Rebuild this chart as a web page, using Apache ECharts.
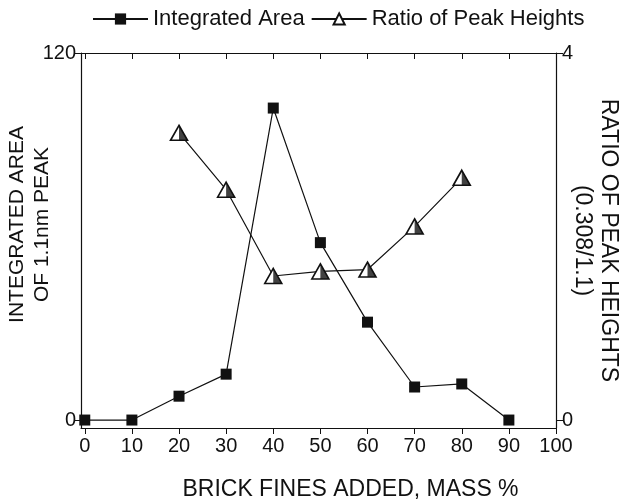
<!DOCTYPE html>
<html>
<head>
<meta charset="utf-8">
<script src="https://cdn.jsdelivr.net/npm/echarts@6/dist/echarts.min.js"></script>
<style>
  html, body { margin: 0; padding: 0; background: #fff; }
  #chart { width: 629px; height: 499px; }
</style>
</head>
<body>
<div id="chart"></div>
<script>
// data
var massPct = [0, 10, 20, 30, 40, 50, 60, 70, 80, 90];
var integratedArea = [0, 0, 7.8, 15, 102, 58, 32, 10.8, 11.8, 0];
var ratioPct = [20, 30, 40, 50, 60, 70, 80];
var ratioHeights = [3.13, 2.51, 1.57, 1.62, 1.64, 2.11, 2.64];
var xTicks = [0, 10, 20, 30, 40, 50, 60, 70, 80, 90, 100];
var leftTicks = [0, 120];
var rightTicks = [0, 4];

var areaPts = massPct.map(function (x, i) { return [x, integratedArea[i]]; });
var ratioPts = ratioPct.map(function (x, i) { return [x, ratioHeights[i]]; });

var font = 'Liberation Sans, Arial, sans-serif';
var ink = '#111';

var myChart = echarts.init(document.getElementById('chart'));
var option = {
    animation: false,
    textStyle: { fontFamily: font, color: ink },
    legend: {
        top: 3,
        left: 87,
        itemWidth: 55,
        itemHeight: 14,
        itemGap: 6,
        textStyle: { fontSize: 22, color: ink, fontFamily: font },
        data: ['Integrated Area', 'Ratio of Peak Heights']
    },
    grid: { left: 81, right: 73, top: 53, bottom: 71, containLabel: false, outerBoundsMode: 'none' },
    xAxis: [{
        type: 'value',
        min: -0.8,
        max: 100,
        splitLine: { show: false },
        axisLine: { onZero: false, lineStyle: { color: ink, width: 1.2 } },
        axisTick: { customValues: xTicks, length: 6, lineStyle: { color: ink } },
        axisLabel: { customValues: xTicks, fontSize: 20, color: ink, margin: 8 },
        name: 'BRICK FINES ADDED, MASS %',
        nameLocation: 'middle',
        nameGap: 50,
        nameTextStyle: { fontSize: 23, color: ink, padding: [0, 0, 0, 64] }
    }, {
        type: 'value',
        position: 'top',
        min: -0.8,
        max: 100,
        splitLine: { show: false },
        axisLine: { onZero: false, lineStyle: { color: ink, width: 1.2 } },
        axisTick: { customValues: xTicks, inside: true, length: 6, lineStyle: { color: ink } },
        axisLabel: { show: false }
    }],
    yAxis: [{
        type: 'value',
        min: -2.6,
        max: 120,
        splitLine: { show: false },
        axisLine: { show: true, onZero: false, lineStyle: { color: ink, width: 1.2 } },
        axisTick: { customValues: leftTicks, length: 7, lineStyle: { color: ink } },
        axisLabel: { customValues: leftTicks, fontSize: 20, color: ink, margin: 5 },
        name: 'INTEGRATED AREA\nOF 1.1nm PEAK',
        nameLocation: 'middle',
        nameMoveOverlap: false,
        nameGap: 26,
        nameTextStyle: { fontSize: 21, color: ink, lineHeight: 25, padding: [0, 0, 0, 32] }
    }, {
        type: 'value',
        position: 'right',
        min: -0.0867,
        max: 4,
        splitLine: { show: false },
        axisLine: { show: true, onZero: false, lineStyle: { color: ink, width: 1.2 } },
        axisTick: { customValues: rightTicks, length: 7, lineStyle: { color: ink } },
        axisLabel: { customValues: rightTicks, fontSize: 20, color: ink, margin: 6 },
        name: 'RATIO OF PEAK HEIGHTS\n(0.308/1.1)',
        nameLocation: 'middle',
        nameMoveOverlap: false,
        nameRotate: -90,
        nameGap: 13,
        nameTextStyle: { fontSize: 23, color: ink, lineHeight: 26 }
    }],
    series: [{
        name: 'Integrated Area',
        type: 'line',
        xAxisIndex: 0,
        yAxisIndex: 0,
        data: areaPts,
        symbol: 'rect',
        symbolSize: 11,
        lineStyle: { color: ink, width: 1.2 },
        itemStyle: { color: ink },
        z: 3
    }, {
        name: 'Ratio of Peak Heights',
        type: 'line',
        xAxisIndex: 0,
        yAxisIndex: 1,
        data: ratioPts,
        symbol: 'triangle',
        symbolSize: [17, 15],
        lineStyle: { color: ink, width: 1.2 },
        itemStyle: { color: '#fff', borderColor: ink, borderWidth: 1.6 },
        z: 4
    }, {
        // dark right half of the triangle markers
        name: 'Ratio of Peak Heights',
        type: 'scatter',
        xAxisIndex: 0,
        yAxisIndex: 1,
        data: ratioPts,
        symbol: 'path://M0,0 L10,20 L0,20 Z',
        symbolSize: [8.5, 15],
        symbolOffset: [4.25, 0],
        itemStyle: { color: ink },
        silent: true,
        z: 5
    }]
};

myChart.setOption(option);
</script>
</body>
</html>
